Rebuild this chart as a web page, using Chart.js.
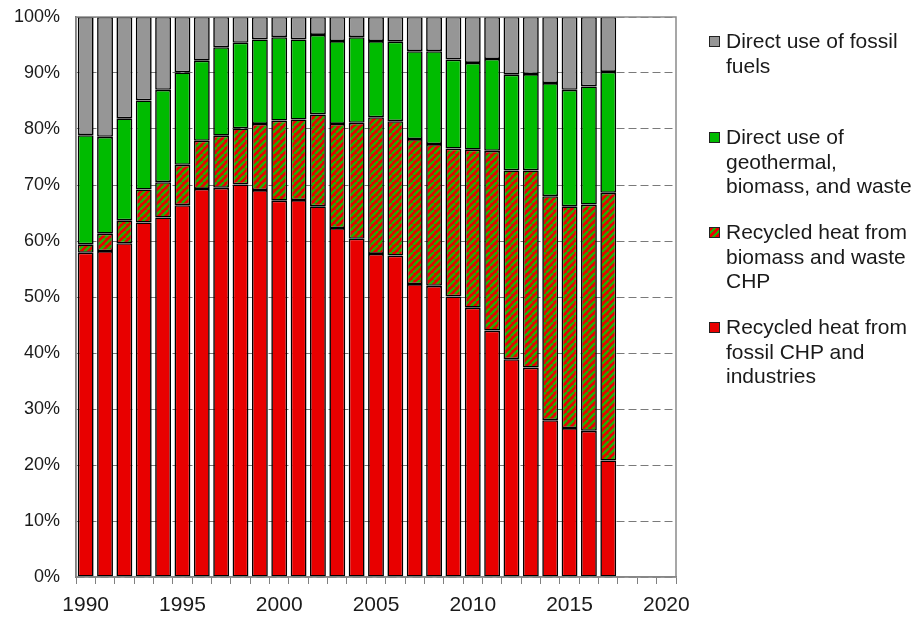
<!DOCTYPE html>
<html>
<head>
<meta charset="utf-8">
<script src="https://cdn.jsdelivr.net/npm/chart.js@4"></script>
<style>
  body { margin: 0; background: #fff; }
  #wrap { position: relative; width: 914px; height: 617px; font-family: "Liberation Sans", Arial, sans-serif; }
  .item { position: absolute; left: 709px; font-size: 21px; line-height: 24.5px; color: #1a1a1a; }
  .item span.txt { display: block; margin-left: 17px; }
  .sw { position: absolute; left: 0; top: 7px; width: 9px; height: 9px; border: 1px solid #222; }
</style>
</head>
<body>
<div id="wrap">
  <canvas id="myChart" width="914" height="617"></canvas>
  <div class="item" style="top:29px"><div class="sw" style="background:#969696"></div><span class="txt">Direct use of fossil<br>fuels</span></div>
  <div class="item" style="top:125px"><div class="sw" style="background:#00bb00"></div><span class="txt">Direct use of<br>geothermal,<br>biomass, and waste</span></div>
  <div class="item" style="top:220px"><div class="sw" style="background:repeating-linear-gradient(-45deg,#e80000 0 3px,#22b000 3px 5px)"></div><span class="txt">Recycled heat from<br>biomass and waste<br>CHP</span></div>
  <div class="item" style="top:315px"><div class="sw" style="background:#e80000"></div><span class="txt">Recycled heat from<br>fossil CHP and<br>industries</span></div>
</div>
<script>
const RED = '#e80000';
const GREEN = '#00bb00';
const GREY = '#969696';

const years = [1990, 1991, 1992, 1993, 1994, 1995, 1996, 1997, 1998, 1999, 2000, 2001, 2002, 2003, 2004,
  2005, 2006, 2007, 2008, 2009, 2010, 2011, 2012, 2013, 2014, 2015, 2016, 2017, 2018, 2019, 2020];

// shares in %, 1990-2017
const fossilChp = [57.9, 58.2, 59.6, 63.3, 64.2, 66.4, 69.3, 69.5, 70.1, 69.1, 67.2, 67.3, 66.2, 62.3, 60.4,
  57.7, 57.4, 52.3, 52.0, 50.1, 48.1, 44.0, 38.9, 37.4, 28.0, 26.6, 26.1, 20.8];
const biomassChp = [1.5, 3.1, 4.1, 5.9, 6.3, 7.2, 8.6, 9.3, 10.0, 11.8, 14.3, 14.4, 16.4, 18.6, 20.7,
  24.4, 24.0, 25.9, 25.3, 26.4, 28.2, 32.1, 33.7, 35.2, 40.0, 39.6, 40.4, 47.8];
const directRenewable = [19.5, 17.3, 18.2, 15.9, 16.5, 16.5, 14.3, 15.8, 15.3, 15.1, 14.9, 14.3, 14.2, 14.8, 15.3,
  13.6, 14.2, 15.7, 16.6, 15.9, 15.5, 16.4, 17.1, 17.2, 20.2, 20.8, 21.1, 21.6];
const directFossil = [21.1, 21.4, 18.1, 14.9, 13.0, 9.9, 7.8, 5.4, 4.6, 4.0, 3.6, 4.0, 3.2, 4.3, 3.6,
  4.3, 4.4, 6.1, 6.1, 7.6, 8.2, 7.5, 10.3, 10.2, 11.8, 13.0, 12.4, 9.8];

const yTicks = [0, 10, 20, 30, 40, 50, 60, 70, 80, 90, 100];

function makeHatch() {
  const s = 7;
  const c = document.createElement('canvas');
  c.width = s; c.height = s;
  const g = c.getContext('2d');
  g.fillStyle = RED;
  g.fillRect(0, 0, s, s);
  g.strokeStyle = '#22b000';
  g.lineWidth = 2.4;
  for (const k of [-s, 0, s]) {
    g.beginPath();
    g.moveTo(k, s);
    g.lineTo(k + s, 0);
    g.stroke();
  }
  return g.createPattern(c, 'repeat');
}

const plotFrame = {
  id: 'plotFrame',
  afterDatasetsDraw(chart) {
    const a = chart.chartArea, c = chart.ctx;
    c.save();
    c.strokeStyle = '#8a8a8a';
    c.lineWidth = 1.5;
    c.strokeRect(a.left, a.top, a.right - a.left, a.bottom - a.top);
    c.restore();
  }
};

function bars(label, data, color) {
  return {
    label: label,
    data: data,
    backgroundColor: color,
    borderColor: '#000',
    borderWidth: 1.6,
    borderSkipped: false,
    barPercentage: 0.82,
    categoryPercentage: 1,
  };
}

function noPad(s) {
  s.paddingTop = 0;
  s.paddingBottom = 0;
  s.paddingLeft = 0;
  s.paddingRight = 0;
}

const ctx = document.getElementById('myChart').getContext('2d');
new Chart(ctx, {
  type: 'bar',
  data: {
    labels: years,
    datasets: [
      bars('Recycled heat from fossil CHP and industries', fossilChp, RED),
      bars('Recycled heat from biomass and waste CHP', biomassChp, makeHatch()),
      bars('Direct use of geothermal, biomass, and waste', directRenewable, GREEN),
      bars('Direct use of fossil fuels', directFossil, GREY),
    ],
  },
  options: {
    responsive: false,
    animation: false,
    layout: { padding: { left: 0, top: 17, right: 238, bottom: 0 } },
    plugins: { legend: { display: false }, tooltip: { enabled: false } },
    scales: {
      x: {
        stacked: true,
        offset: true,
        afterFit: s => { s.height = 40; noPad(s); },
        grid: { offset: true, drawOnChartArea: false, drawTicks: true, tickLength: 7, color: '#808080' },
        border: { display: true, color: '#808080', width: 1.5 },
        ticks: {
          autoSkip: false,
          maxRotation: 0,
          padding: 9,
          color: '#1a1a1a',
          font: { family: 'Liberation Sans', size: 21 },
          callback: (v, i) => (years[i] % 5 === 0 ? String(years[i]) : ''),
        },
      },
      y: {
        stacked: true,
        min: 0,
        max: 100,
        afterFit: s => { s.width = 76; noPad(s); },
        afterBuildTicks: s => { s.ticks = yTicks.map(v => ({ value: v })); },
        grid: { color: '#7a7a7a', lineWidth: 1, drawTicks: false },
        border: { display: true, color: '#666', width: 1.5, dash: [8, 4] },
        ticks: {
          padding: 16,
          color: '#1a1a1a',
          font: { family: 'Liberation Sans', size: 18 },
          callback: v => v + '%',
        },
      },
    },
  },
  plugins: [plotFrame],
});
</script>
</body>
</html>
